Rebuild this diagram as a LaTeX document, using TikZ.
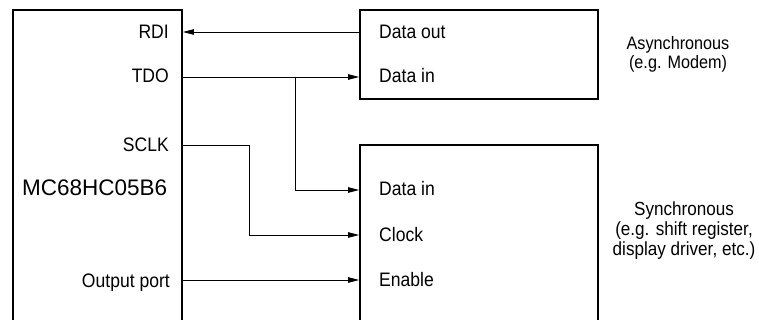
\documentclass[tikz,border=0pt]{standalone}
\usepackage{fontspec}
\setmainfont{Liberation Sans}
\newfontfamily\narrowfont{Liberation Sans}[FakeStretch=0.9]
\usetikzlibrary{arrows.meta}
\begin{document}
\begin{tikzpicture}[x=1pt,y=-1pt,
  box/.style={draw, line width=1.8pt, anchor=north west, inner sep=0pt, outer sep=0pt},
  wire/.style={line width=0.9pt},
  arr/.style={wire, -{Triangle[length=11pt,width=5.5pt]}, shorten >=0.9pt},
  pin/.style={font=\narrowfont\fontsize{19.5}{20}\selectfont, inner sep=0pt},
  note/.style={font=\narrowfont\fontsize{18}{19}\selectfont, align=center, inner sep=0pt}]
\useasboundingbox (0,0) rectangle (759,320);
\clip (0,0) rectangle (759,320);
% boxes
\node[box, minimum width=169pt, minimum height=340pt] (mcu) at (13,10) {};
\node[box, minimum width=238pt, minimum height=89pt] (async) at (360,10) {};
\node[box, minimum width=238pt, minimum height=200pt] (sync) at (360,145) {};
% wire levels
\coordinate (yrdi) at (0,32);
\coordinate (ytdo) at (0,77);
\coordinate (ysclk) at (0,145);
\coordinate (ydin) at (0,190);
\coordinate (yout) at (0,280);
\coordinate (br) at (295,77);
\coordinate (ck) at (249,235);
% pin labels
\node[pin, anchor=base east] (rdi) at (169,39) {RDI};
\node[pin, anchor=base east] (tdo) at (169,83) {TDO};
\node[pin, anchor=base east] (sclk) at (169,152) {SCLK};
\node[pin, anchor=base east] (oport) at (170,287) {Output port};
\node[font=\fontsize{22.5}{24}\selectfont, anchor=base west, inner sep=0pt] (name) at (22,196) {MC68HC05B6};
\node[pin, anchor=base west] (dout) at (379,39) {Data out};
\node[pin, anchor=base west] (din1) at (379,83) {Data in};
\node[pin, anchor=base west] (din2) at (379,196) {Data in};
\node[pin, anchor=base west] (clk) at (379,241) {Clock};
\node[pin, anchor=base west] (en) at (379,286) {Enable};
% notes
\node[note] (anote) at (678,54) {Asynchronous\\(e.g. Modem)};
\node[note, font=\narrowfont\fontsize{19}{20}\selectfont] (snote) at (684,231) {Synchronous\\(e.g. shift register,\\display driver, etc.)};
% connectors
\draw[arr] (async.west |- yrdi) -- (mcu.east |- yrdi);
\draw[arr] (mcu.east |- ytdo) -- (async.west |- ytdo);
\draw[arr] (br) |- (sync.west |- ydin);
\draw[arr] (mcu.east |- ysclk) -| (ck) -- (sync.west |- ck);
\draw[arr] (mcu.east |- yout) -- (sync.west |- yout);
\end{tikzpicture}
\end{document}
